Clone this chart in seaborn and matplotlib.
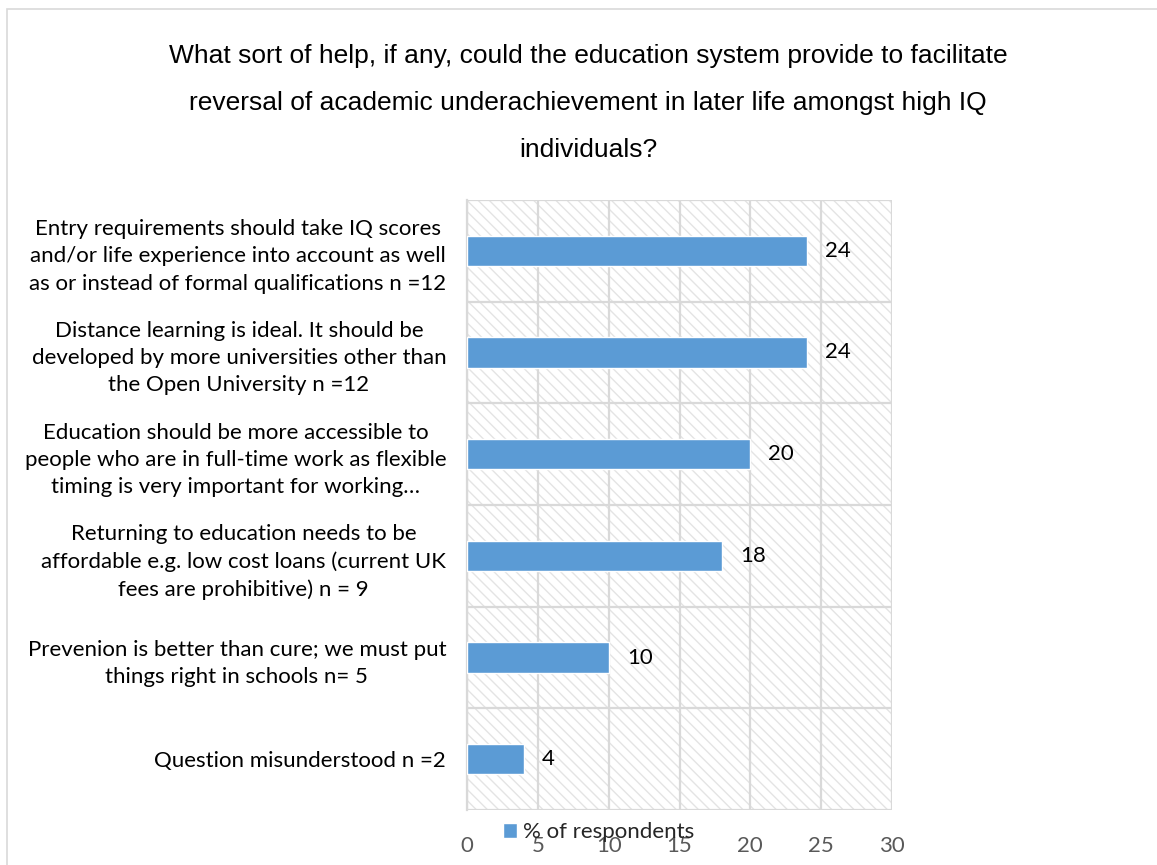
import matplotlib
matplotlib.use("Agg")
import matplotlib.pyplot as plt
from matplotlib.patches import Rectangle
import seaborn as sns
import pandas as pd

# Survey responses, top to bottom
categories = [
    "Entry requirements should take IQ scores\nand/or life experience into account as well\nas or instead of formal qualifications n =12",
    "Distance learning is ideal. It should be\ndeveloped by more universities other than\nthe Open University n =12",
    "Education should be more accessible to\npeople who are in full-time work as flexible\ntiming is very important for working\u2026",
    "Returning to education needs to be\naffordable e.g. low cost loans (current UK\nfees are prohibitive) n = 9",
    "Prevenion is better than cure; we must put\nthings right in schools n= 5",
    "Question misunderstood n =2",
]
percent = [24, 24, 20, 18, 10, 4]
x_ticks = [0, 5, 10, 15, 20, 25, 30]
series_name = "% of respondents"
title = ("What sort of help, if any, could the education system provide to facilitate\n"
         "reversal of academic underachievement in later life amongst high IQ\n"
         "individuals?")

df = pd.DataFrame({"category": categories, "value": percent})

sns.set_theme(style="white")
plt.rcParams["font.family"] = ["Lato", "DejaVu Sans"]
plt.rcParams["hatch.linewidth"] = 1.0

W, H = 1157, 865
fig = plt.figure(figsize=(W / 100, H / 100), dpi=100)
fig.patch.set_facecolor("white")

ax = fig.add_axes([467 / W, 1 - 810 / H, (892 - 467) / W, (810 - 200) / H])

bar_color = "#5B9BD5"
grid_color = "#d9d9d9"

sns.barplot(data=df, y="category", x="value", orient="h", color=bar_color,
            width=0.3, saturation=1, ax=ax, label=series_name, zorder=3)
handles, labels = ax.get_legend_handles_labels()
if ax.get_legend() is not None:
    ax.get_legend().remove()

# hatched plot-area background
bg = Rectangle((0, 0), 1, 1, transform=ax.transAxes, facecolor="white",
               edgecolor="#e4e4e4", linewidth=0, hatch="\\\\\\", zorder=0.1)
ax.add_patch(bg)
ax.patch.set_alpha(0)

ax.set_xlim(0, 30)
ax.set_ylim(len(categories) - 0.5, -0.5)
ax.set_xticks(x_ticks)
ax.set_xticklabels([str(t) for t in x_ticks])
ax.set_xlabel("")
ax.set_ylabel("")

# vertical gridlines at the value ticks, horizontal ones between categories
ax.set_yticks([i - 0.5 for i in range(len(categories) + 1)], minor=True)
ax.grid(True, axis="x", which="major", color=grid_color, linewidth=1.6, zorder=0.5)
ax.grid(True, axis="y", which="minor", color=grid_color, linewidth=1.6, zorder=0.5)
ax.set_axisbelow(True)

for s in ["top", "right", "bottom"]:
    ax.spines[s].set_visible(False)
ax.spines["left"].set_color(grid_color)
ax.spines["left"].set_linewidth(1.6)

ax.tick_params(axis="x", which="major", length=0, pad=19, labelsize=16,
               labelcolor="#595959")
ax.tick_params(axis="y", which="major", length=0, pad=15, labelsize=16,
               labelcolor="black")
ax.tick_params(axis="y", which="minor", length=5, width=1.6, color=grid_color,
               direction="out")
for lbl in ax.get_yticklabels():
    lbl.set_multialignment("center")
    lbl.set_linespacing(1.45)

ax.bar_label(ax.containers[0], labels=[str(v) for v in percent], padding=13,
             fontsize=16, color="black")

fig.legend(handles[:1], labels[:1], loc="center left",
           bbox_to_anchor=(503 / W, 1 - 832 / H), frameon=False, fontsize=16,
           handlelength=0.65, handleheight=0.65, handletextpad=0.25,
           borderpad=0, borderaxespad=0)

fig.text(588 / W, 1 - 103 / H, title, ha="center", va="center",
         fontsize=19, family=["Liberation Sans", "DejaVu Sans"],
         linespacing=2.2, color="black")

# chart-area border
fig.patches.append(Rectangle((7 / W, -0.1), 2, 1 - 9 / H + 0.1,
                             transform=fig.transFigure, fill=False,
                             edgecolor=grid_color, linewidth=1.2))

fig.savefig("out.png", dpi=100)
